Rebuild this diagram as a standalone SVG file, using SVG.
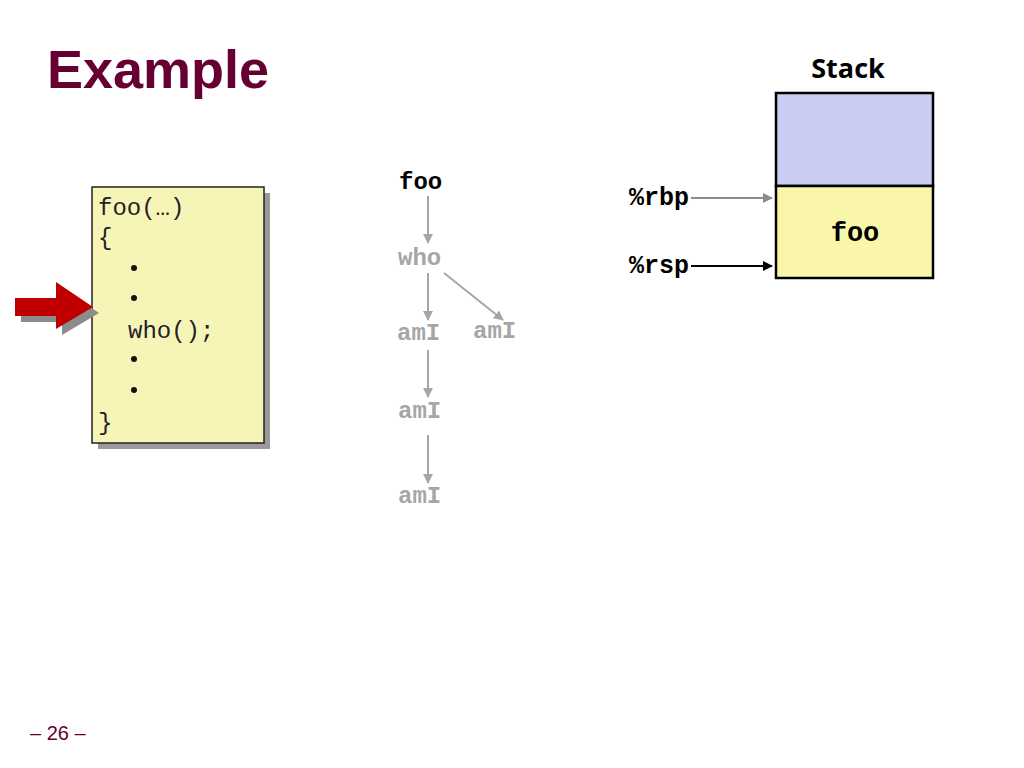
<svg xmlns="http://www.w3.org/2000/svg" width="1024" height="768" viewBox="0 0 1024 768">
<style>
.mono{font-family:"Liberation Mono","Courier New",monospace;}
.code{font-size:24px;fill:#222;}
.tree{font-size:24px;font-weight:bold;fill:#a6a6a6;}
.reg{font-size:25px;font-weight:bold;fill:#000;}
.gl{stroke:#a6a6a6;stroke-width:2;fill:none;}
</style>
<defs>
<marker id="ag" viewBox="0 0 10 10" refX="9" refY="5" markerWidth="5" markerHeight="5" orient="auto"><path d="M0,0 L10,5 L0,10 z" fill="#a6a6a6"/></marker>
<marker id="ak" viewBox="0 0 10 10" refX="9" refY="5" markerWidth="5" markerHeight="5" orient="auto"><path d="M0,0 L10,5 L0,10 z" fill="#000"/></marker>
<marker id="ag2" viewBox="0 0 10 10" refX="9" refY="5" markerWidth="5" markerHeight="5" orient="auto"><path d="M0,0 L10,5 L0,10 z" fill="#8c8c8c"/></marker>
</defs>
<rect width="1024" height="768" fill="#fff"/>
<text x="47" y="88" font-family="Liberation Sans, Arial, sans-serif" font-weight="bold" font-size="54" fill="#660033">Example</text>
<text x="30" y="740" font-family="Liberation Sans, Arial, sans-serif" font-size="20" fill="#660033">– 26 –</text>

<g id="code">
<rect x="98" y="193" width="172" height="256" fill="#9a9a9a"/>
<rect x="92" y="187" width="172" height="256" fill="#f7f4b8" stroke="#222" stroke-width="1.5"/>
<text class="mono code" x="98" y="215">foo(…)</text>
<text class="mono code" x="98" y="245">{</text>
<circle cx="134" cy="268" r="3" fill="#111"/>
<circle cx="134" cy="298" r="3" fill="#111"/>
<text class="mono code" x="128" y="338">who();</text>
<circle cx="134" cy="359" r="3" fill="#111"/>
<circle cx="134" cy="390" r="3" fill="#111"/>
<text class="mono code" x="98" y="430">}</text>
</g>

<g id="pointer">
<path d="M21,304 H62 V288 L99,313 L62,335 V322 H21 z" fill="#8c8c8c"/>
<path d="M15,298 H56 V282 L93,307 L56,329 V316 H15 z" fill="#c00000"/>
</g>

<g id="tree-nodes">
<text id="n-foo" class="mono" x="399" y="189" font-size="24" font-weight="bold" fill="#000">foo</text>
<text id="n-who" class="mono tree" x="398" y="265">who</text>
<text id="n-ami1" class="mono tree" x="397" y="340">amI</text>
<text id="n-ami2" class="mono tree" x="473" y="338">amI</text>
<text id="n-ami3" class="mono tree" x="398" y="418">amI</text>
<text id="n-ami4" class="mono tree" x="398" y="503">amI</text>
</g>

<g id="connectors">
<line class="gl" x1="428" y1="196" x2="428" y2="243" marker-end="url(#ag)"/>
<line class="gl" x1="428" y1="273" x2="428" y2="320" marker-end="url(#ag)"/>
<line class="gl" x1="444" y1="273" x2="503" y2="320" marker-end="url(#ag)"/>
<line class="gl" x1="428" y1="350" x2="428" y2="397" marker-end="url(#ag)"/>
<line class="gl" x1="428" y1="435" x2="428" y2="483" marker-end="url(#ag)"/>
<line x1="691" y1="198" x2="772" y2="198" stroke="#8c8c8c" stroke-width="2" marker-end="url(#ag2)"/>
<line x1="691" y1="266" x2="772" y2="266" stroke="#000" stroke-width="2" marker-end="url(#ak)"/>
</g>

<g id="stack">
<text x="848" y="78" font-family="Open Sans, Liberation Sans, sans-serif" font-weight="bold" font-size="27" text-anchor="middle" fill="#000">Stack</text>
<rect x="776" y="93" width="157" height="93" fill="#cacdf1" stroke="#000" stroke-width="2.5"/>
<rect x="776" y="186" width="157" height="92" fill="#f9f6a9" stroke="#000" stroke-width="2.5"/>
<text class="mono" x="855" y="241" font-size="27" font-weight="bold" text-anchor="middle" fill="#000">foo</text>
</g>

<g id="registers">
<text class="mono reg" x="629" y="205">%rbp</text>
<text class="mono reg" x="629" y="273">%rsp</text>
</g>
</svg>
